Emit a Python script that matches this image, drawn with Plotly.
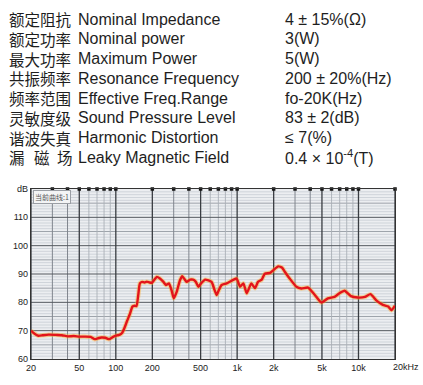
import plotly.graph_objects as go
import numpy as np

# ---------------- data ----------------
spec_cn = ["额定阻抗", "额定功率", "最大功率", "共振频率", "频率范围", "灵敏度级", "谐波失真", "漏磁场"]
spec_en = ["Nominal Impedance", "Nominal power", "Maximum Power", "Resonance Frequency",
           "Effective Freq.Range", "Sound Pressure Level", "Harmonic Distortion", "Leaky Magnetic Field"]
spec_val = ["4 ± 15%(Ω)", "3(W)", "5(W)", "200 ± 20%(Hz)", "fo-20K(Hz)", "83 ± 2(dB)",
            "≤ 7(%)", "0.4 × 10<sup>-4</sup>(T)"]

freq_hz = [20, 21, 23, 25, 28, 32, 36, 40, 45, 50, 56, 62, 67, 71, 76, 82, 88, 95, 102, 108, 113,
           118, 124, 131, 137, 143, 148, 153, 158, 165, 172, 180, 190, 198, 208, 218, 231, 247, 259,
           274, 288, 300, 318, 338, 353, 368, 384, 409, 433, 455, 479, 500, 546, 615, 650, 678, 710,
           745, 820, 936, 990, 1057, 1125, 1199, 1308, 1404, 1485, 1595, 1690, 1870, 1985, 2180,
           2350, 2462, 2710, 3080, 3380, 3840, 4370, 4950, 5600, 6350, 6960, 7700, 8650, 9850,
           11300, 12550, 14100, 15900, 17600, 18700, 20000]
spl_db = [70.0, 69.2, 68.2, 68.4, 68.6, 68.5, 68.4, 68.0, 68.1, 67.9, 67.9, 67.8, 67.0, 67.3, 67.6,
          67.5, 67.0, 67.8, 68.3, 68.6, 69.3, 71.0, 73.5, 76.0, 78.5, 78.8, 78.7, 82.5, 86.7, 87.2,
          87.0, 87.3, 87.0, 86.9, 88.0, 89.0, 88.4, 87.2, 86.1, 86.7, 84.3, 81.4, 83.8, 87.8, 89.2,
          88.2, 87.2, 88.0, 88.0, 87.3, 85.5, 86.5, 88.0, 87.2, 84.5, 82.6, 84.5, 86.1, 86.7, 88.0,
          88.4, 85.5, 86.7, 83.2, 86.7, 85.0, 87.2, 88.0, 90.1, 90.4, 91.3, 92.7, 92.2, 90.9, 88.4,
          85.5, 84.9, 85.2, 82.6, 79.9, 81.4, 81.9, 83.2, 84.1, 82.2, 81.7, 81.9, 82.9, 80.6, 79.1,
          78.5, 77.2, 78.8]

x_tick_vals = [20, 50, 100, 200, 500, 1000, 2000, 5000, 10000]
x_tick_text = ["20", "50", "100", "200", "500", "1k", "2k", "5k", "10k"]
y_tick_vals = [60, 70, 80, 90, 100, 110, 120]
y_tick_text = ["60", "70", "80", "90", "100", "110", "dB"]

# ---------------- layout geometry ----------------
W, H = 423, 385
ML, MR, MT, MB = 31, 28, 189, 23
PW, PH = W - ML - MR, H - MT - MB


def px(x):
    return (x - ML) / PW


def py(y):
    return (H - MB - y) / PH


fig = go.Figure()

# grid: vertical lines at every 1..9 multiple
grid_f = [m * d for d in (10, 100, 1000, 10000) for m in range(1, 10) if 20 <= m * d <= 20000]
major_f = [f for f in grid_f if int(str(f)[0]) in (1, 2, 5)]
mid_f = [f for f in grid_f if int(str(f)[0]) in (3, 4)]
minor_f = [f for f in grid_f if f not in major_f and f not in mid_f]


def vlines(fs):
    xs, ys = [], []
    for f in fs:
        xs += [f, f, None]
        ys += [60, 120, None]
    return xs, ys


def hlines(vals):
    xs, ys = [], []
    for v in vals:
        xs += [20, 20000, None]
        ys += [v, v, None]
    return xs, ys


h_minor = [v for v in range(61, 120) if v % 5 != 0]
h_mid = [v for v in range(65, 120, 10)]
h_major = [v for v in range(70, 120, 10)]

for (xs, ys), col, w in [
    (hlines(h_minor), "#c8cdd4", 0.8),
    (hlines(h_mid), "#959ba3", 0.9),
    (vlines(minor_f), "#aab0b7", 0.9),
    (vlines(mid_f), "#80868e", 1.0),
    (hlines(h_major), "#55595f", 1.0),
    (vlines(major_f), "#3a3d42", 1.3),
]:
    fig.add_trace(go.Scatter(x=xs, y=ys, mode="lines", line=dict(color=col, width=w),
                             hoverinfo="skip", showlegend=False))

# top edge squares
fig.add_trace(go.Scatter(x=grid_f, y=[120] * len(grid_f), mode="markers",
                         marker=dict(symbol="square", size=3.5, color="#111"),
                         cliponaxis=False, hoverinfo="skip", showlegend=False))

# response curve
fig.add_trace(go.Scatter(x=freq_hz, y=spl_db, mode="lines",
                         line=dict(color="rgba(255,170,40,0.45)", width=4.5, shape="spline", smoothing=0.5),
                         hoverinfo="skip", showlegend=False))
fig.add_trace(go.Scatter(x=freq_hz, y=spl_db, mode="lines",
                         line=dict(color="#e3141b", width=2.4, shape="spline", smoothing=0.5),
                         showlegend=False))

annotations = []
row_y = [16 + 20.1 * i for i in range(8)]
txt_col = "#1e1e1e"
for i in range(8):
    yy = py(row_y[i])
    if i == 7:
        for ch, xx in zip(spec_cn[i], [8, 33, 56]):
            annotations.append(dict(x=px(xx), y=yy, xref="paper", yref="paper", text=ch,
                                    showarrow=False, xanchor="left", yanchor="middle", borderpad=0,
                                    font=dict(family="Noto Sans CJK SC", size=15.5, color=txt_col)))
    else:
        annotations.append(dict(x=px(8), y=yy, xref="paper", yref="paper", text=spec_cn[i],
                                showarrow=False, xanchor="left", yanchor="middle", borderpad=0,
                                font=dict(family="Noto Sans CJK SC", size=15.5, color=txt_col)))
    annotations.append(dict(x=px(77), y=yy, xref="paper", yref="paper", text=spec_en[i],
                            showarrow=False, xanchor="left", yanchor="middle", borderpad=0,
                            font=dict(family="Liberation Sans", size=16, color=txt_col)))
    annotations.append(dict(x=px(284), y=yy, xref="paper", yref="paper", text=spec_val[i],
                            showarrow=False, xanchor="left", yanchor="middle", borderpad=0,
                            font=dict(family="Liberation Sans", size=16, color=txt_col)))

# legend-like box inside plot
annotations.append(dict(x=px(33), y=py(197), xref="paper", yref="paper", text="当前曲线:1",
                        showarrow=False, xanchor="left", yanchor="middle",
                        font=dict(family="Noto Sans CJK SC", size=7, color="#555"),
                        bgcolor="#f3f4f5", bordercolor="#9a9ea4", borderwidth=1, borderpad=1))
# 20kHz label (offset to the right as in reference)
annotations.append(dict(x=px(392), y=py(370), xref="paper", yref="paper", text="20kHz",
                        showarrow=False, xanchor="left", yanchor="middle", borderpad=0,
                        font=dict(family="Liberation Sans", size=9, color="#222")))

fig.update_layout(
    width=W, height=H,
    margin=dict(l=ML, r=MR, t=MT, b=MB),
    paper_bgcolor="white",
    plot_bgcolor="#eceef1",
    annotations=annotations,
    xaxis=dict(type="log", range=[np.log10(20), np.log10(20000)], showgrid=False, zeroline=False,
               tickvals=x_tick_vals, ticktext=x_tick_text, ticks="",
               tickfont=dict(family="Liberation Sans", size=9, color="#222"),
               showline=True, linecolor="#333", linewidth=1.2, mirror=True),
    yaxis=dict(range=[60, 120], showgrid=False, zeroline=False,
               tickvals=y_tick_vals, ticktext=y_tick_text, ticks="",
               tickfont=dict(family="Liberation Sans", size=9, color="#222"),
               showline=True, linecolor="#333", linewidth=1.2, mirror=True),
)

fig.write_html("out.html", config={"displayModeBar": False},
               post_script="document.body.style.margin='0';document.body.style.overflow='hidden';")
